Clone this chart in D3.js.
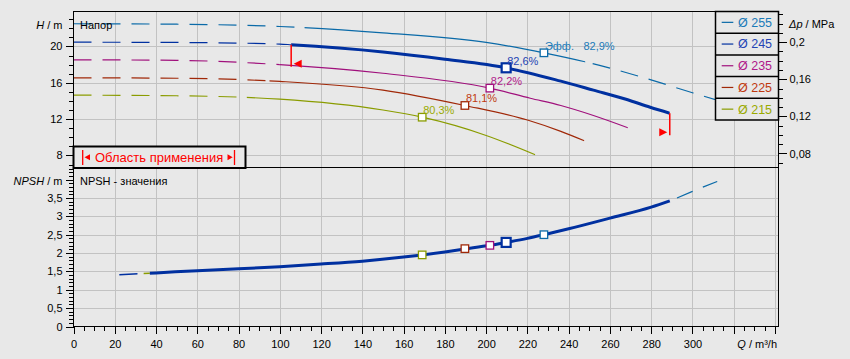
<!DOCTYPE html>
<html><head><meta charset="utf-8">
<script src="https://cdn.jsdelivr.net/npm/d3@7"></script>
<style>
body{margin:0;background:#e8e8e8;}
svg text{font-family:"Liberation Sans",Arial,sans-serif;}
</style></head><body>
<svg id="c" width="850" height="359"></svg>
<script>
// ---------- data ----------
const diameters = ["Ø 255","Ø 245","Ø 235","Ø 225","Ø 215"];
const lineColors = ["#0a6aa8","#0030a0","#a0107c","#a02808","#8a9c00"];
const textColors = ["#1a7ab8","#2444b4","#b0188a","#c03a10","#9aaa00"];

const q255 = [0,50,100,150,200,228,250,275,300,320];
const h255 = [22.5,22.45,22.2,21.5,20.45,19.3,18.2,16.66,14.9,13.55];
const q245 = [0,50,100,105.5,150,180,209.7,236.2,252,268.2,279.5,289];
const h245 = [20.47,20.44,20.26,20.19,19.4,18.6,17.65,16.18,15.19,14.16,13.3,12.65];
const q235 = [0,50,100,150,201.8,221.4,236.2,252,268.7];
const h235 = [18.53,18.47,18.0,17.05,15.41,14.3,13.5,12.4,11.05];
const q225 = [0,50,100,150,189.7,220,236.2,247.6];
const h225 = [16.55,16.5,16.15,15.2,13.5,11.9,10.65,9.61];
const q215 = [0,50,100,150,169,200,223.8];
const h215 = [14.64,14.57,14.2,13.0,12.21,10.2,8.07];
const headQ = [q255,q245,q235,q225,q215];
const headH = [h255,h245,h235,h225,h215];
const solidStartQ = [112,105.5,100,95,84];
const solidEndQ = [248,289,268.7,247.6,223.8];

const effQ = [228,209.7,201.8,189.7,169];
const effH = [19.3,17.65,15.41,13.5,12.21];
const effLabels = ["82,9%","82,6%","82,2%","81,1%","80,3%"];

const npshQ = [22.2,40,60,80,100,120,140,160,169,180,189.7,201.8,209.7,220,228,240,260,280,289];
const npshV = [1.41,1.46,1.52,1.57,1.63,1.70,1.78,1.89,1.95,2.03,2.11,2.21,2.29,2.40,2.50,2.66,2.95,3.25,3.42];
const npshExtQ = [292.5,300,312];
const npshExtV = [3.50,3.68,3.95];
const npshMarkV = [2.50,2.29,2.21,2.12,1.95];
const opRangeQ = [105.5,289];

const xTicks = [0,20,40,60,80,100,120,140,160,180,200,220,240,260,280,300];
const hTicks = [8,12,16,20];
const pTicks = [0.08,0.12,0.16,0.2];
const nTicks = [0,0.5,1,1.5,2,2.5,3,3.5];

// ---------- scales ----------
const svg = d3.select("#c");
const x = d3.scaleLinear().domain([0,341.7]).range([73.5,778.5]);
const yH = d3.scaleLinear().domain([6.67,23.85]).range([167.5,11.5]);
const yP = d3.scaleLinear().domain([0.0649,0.2331]).range([167.5,11.5]);
const yN = d3.scaleLinear().domain([0,4.33]).range([326.5,167.5]);
const fmt = d => String(+d.toFixed(3)).replace(".", ",");
const BG = "#e8e8e8";

svg.append("rect").attr("width",850).attr("height",359).attr("fill",BG);

// ---------- grid ----------
const grid = svg.append("g").attr("stroke","#c2c2c2").attr("stroke-width",1).attr("shape-rendering","crispEdges");
d3.range(20,341,20).forEach(v=>{
  const px = Math.round(x(v))+0.5;
  grid.append("line").attr("x1",px).attr("x2",px).attr("y1",11.5).attr("y2",326.5);
});
hTicks.forEach(v=>{
  const py = Math.round(yH(v))+0.5;
  grid.append("line").attr("x1",73.5).attr("x2",778.5).attr("y1",py).attr("y2",py);
});
nTicks.slice(1).forEach(v=>{
  const py = Math.round(yN(v))+0.5;
  grid.append("line").attr("x1",73.5).attr("x2",778.5).attr("y1",py).attr("y2",py);
});

// ---------- clip paths ----------
const defs = svg.append("defs");
function clip(id, ranges, y0, y1){
  const cp = defs.append("clipPath").attr("id",id);
  ranges.forEach(r=>cp.append("rect").attr("x",x(r[0])).attr("width",x(r[1])-x(r[0])).attr("y",y0).attr("height",y1-y0));
  return "url(#"+id+")";
}

// ---------- head curves ----------
const lineH = d3.line().x(d=>x(d[0])).y(d=>yH(d[1])).curve(d3.curveMonotoneX);
const curves = svg.append("g").attr("fill","none");
for (let i=headQ.length-1;i>=0;i--){
  const pts = headQ[i].map((q,j)=>[q,headH[i][j]]);
  const dashRanges = [[0,solidStartQ[i]]];
  if (solidEndQ[i] < d3.max(headQ[i])) dashRanges.push([solidEndQ[i],341.7]);
  curves.append("path").attr("d",lineH(pts)).attr("stroke",lineColors[i]).attr("stroke-width",1.2)
    .attr("stroke-dasharray","18,11").attr("clip-path",clip("cd"+i,dashRanges,11.5,167.5));
  curves.append("path").attr("d",lineH(pts)).attr("stroke",lineColors[i]).attr("stroke-width",i===1?3:1.2)
    .attr("clip-path",clip("cs"+i,[[solidStartQ[i],solidEndQ[i]]],11.5,167.5));
}

// operating range markers on Ø245
const h245At = d3.scaleLinear().domain(q245).range(h245);
opRangeQ.forEach((q,k)=>{
  const px = x(q), top = yH(h245At(q));
  svg.append("line").attr("x1",px).attr("x2",px).attr("y1",top).attr("y2",top+22).attr("stroke","#ff0000").attr("stroke-width",1.5);
  const yc = top+19, s = k===0?1:-1;
  svg.append("path").attr("d",`M${px+s*2.5},${yc} L${px+s*10.5},${yc-4} L${px+s*10.5},${yc+4} Z`).attr("fill","#ff0000");
});

// efficiency markers + labels
effQ.forEach((q,i)=>{
  const px = x(q), py = yH(effH[i]);
  const s = i===1?9:7.5;
  svg.append("rect").attr("x",px-s/2).attr("y",py-s/2).attr("width",s).attr("height",s)
    .attr("fill","#fff").attr("stroke",lineColors[i]).attr("stroke-width",i===1?2.2:1.3);
  const t = svg.append("text").attr("x",px+1).attr("y",py-7).attr("dy","0.35em")
    .attr("font-size",11).attr("fill",textColors[i]);
  if (i===0){
    t.append("tspan").text("Эфф.");
    t.append("tspan").attr("x",px+39.5).text(effLabels[i]);
  } else t.text(effLabels[i]);
});

// ---------- NPSH ----------
const lineN = d3.line().x(d=>x(d[0])).y(d=>yN(d[1])).curve(d3.curveMonotoneX);
const npts = npshQ.map((q,j)=>[q,npshV[j]]);
svg.append("path").attr("d",lineN(npts)).attr("fill","none").attr("stroke","#0030a0").attr("stroke-width",1.5)
  .attr("clip-path",clip("n0",[[0,31]],167.5,326.5));
svg.append("path").attr("d",lineN(npts)).attr("fill","none").attr("stroke","#8a9c00").attr("stroke-width",1.5)
  .attr("clip-path",clip("n1",[[34,37]],167.5,326.5));
svg.append("path").attr("d",lineN(npts)).attr("fill","none").attr("stroke","#0030a0").attr("stroke-width",3)
  .attr("clip-path",clip("n2",[[37,341.7]],167.5,326.5));
svg.append("path").attr("d",lineN(npshExtQ.map((q,j)=>[q,npshExtV[j]]))).attr("fill","none")
  .attr("stroke","#0a6aa8").attr("stroke-width",1.2).attr("stroke-dasharray","17,11");
effQ.forEach((q,i)=>{
  const px = x(q), py = yN(npshMarkV[i]);
  const s = i===1?9:7.5;
  svg.append("rect").attr("x",px-s/2).attr("y",py-s/2).attr("width",s).attr("height",s)
    .attr("fill","#fff").attr("stroke",lineColors[i]).attr("stroke-width",i===1?2.2:1.3);
});

// ---------- legend ----------
const lg = svg.append("g");
const rowH = 108.5/5;
lg.append("rect").attr("x",715.5).attr("y",11.5).attr("width",63).attr("height",108.5)
  .attr("fill",BG).attr("stroke","#000").attr("stroke-width",1.5);
diameters.forEach((d,i)=>{
  const cy = 11.5 + rowH*(i+0.5);
  if (i>0) lg.append("line").attr("x1",715.5).attr("x2",778.5).attr("y1",11.5+rowH*i).attr("y2",11.5+rowH*i).attr("stroke","#000").attr("stroke-width",1.5);
  lg.append("line").attr("x1",721.7).attr("x2",733.3).attr("y1",cy).attr("y2",cy).attr("stroke",lineColors[i]).attr("stroke-width",1.2);
  lg.append("text").attr("x",738).attr("y",cy).attr("dy","0.35em").attr("font-size",12.5).attr("fill",textColors[i]).text(d);
});

// ---------- "Область применения" box ----------
const ob = svg.append("g");
ob.append("rect").attr("x",73.5).attr("y",146.5).attr("width",172).attr("height",21.5)
  .attr("fill",BG).attr("stroke","#000").attr("stroke-width",2);
ob.append("text").attr("x",95).attr("y",157.3).attr("dy","0.35em").attr("font-size",13).attr("fill","#ff0000").text("Область применения");
ob.append("line").attr("x1",82.7).attr("x2",82.7).attr("y1",150).attr("y2",165).attr("stroke","#ff0000").attr("stroke-width",1.3);
ob.append("path").attr("d","M84.5,157.3 L90,154.3 L90,160.3 Z").attr("fill","#ff0000");
ob.append("line").attr("x1",234.5).attr("x2",234.5).attr("y1",150).attr("y2",165).attr("stroke","#ff0000").attr("stroke-width",1.3);
ob.append("path").attr("d","M232.7,157.3 L227.5,154.3 L227.5,160.3 Z").attr("fill","#ff0000");

// ---------- frames ----------
const fr = svg.append("g").attr("fill","none").attr("stroke","#000").attr("shape-rendering","crispEdges");
fr.append("rect").attr("x",73.5).attr("y",11.5).attr("width",705).attr("height",315);
fr.append("line").attr("x1",73.5).attr("x2",778.5).attr("y1",167.5).attr("y2",167.5).attr("stroke-width",1.5);

// ---------- axes ----------
function styleAxis(g){
  g.select(".domain").remove();
  g.selectAll("text").attr("font-size",11).attr("fill","#000").attr("font-family","Liberation Sans, Arial, sans-serif");
  g.selectAll("line").attr("stroke","#000").attr("shape-rendering","crispEdges");
}
// top left H
svg.append("g").attr("transform","translate(73.5,0)")
  .call(d3.axisLeft(yH).tickValues(d3.range(7,24)).tickSize(4.5).tickFormat("")).call(styleAxis);
svg.append("g").attr("transform","translate(73.5,0)")
  .call(d3.axisLeft(yH).tickValues(hTicks).tickSize(8).tickPadding(3).tickFormat(fmt)).call(styleAxis);
// right Δp
svg.append("g").attr("transform","translate(778.5,0)")
  .call(d3.axisRight(yP).tickValues(d3.range(0.07,0.235,0.01)).tickSize(4.5).tickFormat("")).call(styleAxis);
svg.append("g").attr("transform","translate(778.5,0)")
  .call(d3.axisRight(yP).tickValues(pTicks).tickSize(8).tickPadding(3).tickFormat(fmt)).call(styleAxis);
// bottom left NPSH
svg.append("g").attr("transform","translate(73.5,0)")
  .call(d3.axisLeft(yN).tickValues(d3.range(0.1,4.33,0.1)).tickSize(4.5).tickFormat("")).call(styleAxis);
svg.append("g").attr("transform","translate(73.5,0)")
  .call(d3.axisLeft(yN).tickValues(nTicks.concat([4])).tickSize(8).tickPadding(3).tickFormat(d=>d===4?"":fmt(d))).call(styleAxis);
// bottom Q
svg.append("g").attr("transform","translate(0,326.5)")
  .call(d3.axisBottom(x).tickValues(d3.range(5,341,5)).tickSize(4).tickFormat("")).call(styleAxis);
svg.append("g").attr("transform","translate(0,326.5)")
  .call(d3.axisBottom(x).tickValues(d3.range(0,341,20)).tickSize(7).tickPadding(6.5).tickFormat(d=>xTicks.includes(d)?fmt(d):"")).call(styleAxis);

// ---------- axis titles & panel titles ----------
function title(xp, yp, anchor, it, rest){
  const t = svg.append("text").attr("x",xp).attr("y",yp).attr("dy","0.35em").attr("font-size",11)
    .attr("text-anchor",anchor).attr("fill","#000");
  t.append("tspan").attr("font-style","italic").text(it);
  t.append("tspan").text(rest);
}
title(62.5,25,"end","H"," / m");
title(62.5,181,"end","NPSH"," / m");
title(789,24,"start","Δp"," / MPa");
title(777,344,"end","Q"," / m³/h");
svg.append("text").attr("x",80).attr("y",25).attr("dy","0.35em").attr("font-size",11).attr("fill","#000").text("Напор");
svg.append("text").attr("x",80).attr("y",181).attr("dy","0.35em").attr("font-size",11).attr("fill","#000").text("NPSH - значения");
</script>
</body></html>
